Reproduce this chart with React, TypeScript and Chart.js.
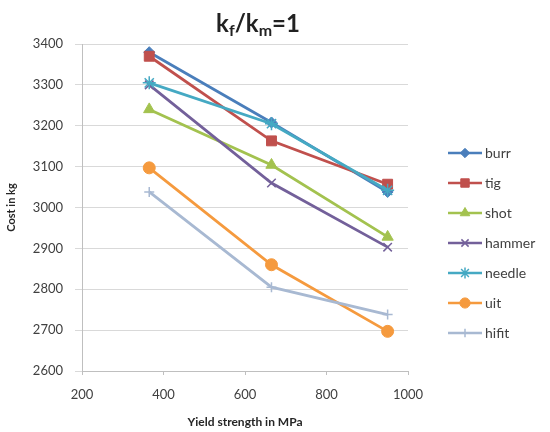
import React, { useEffect, useRef } from 'react';
import { Chart, registerables } from 'chart.js';
import { drawPoint } from 'chart.js/helpers';

Chart.register(...registerables);

const yieldStrength = [365, 665, 950];
const burr = [3380, 3208, 3038];
const tig = [3370, 3163, 3057];
const shot = [3240, 3104, 2928];
const hammer = [3300, 3060, 2903];
const needle = [3305, 3205, 3042];
const uit = [3097, 2860, 2697];
const hifit = [3038, 2805, 2738];

const seriesNames = ['burr', 'tig', 'shot', 'hammer', 'needle', 'uit', 'hifit'];
const seriesValues = [burr, tig, shot, hammer, needle, uit, hifit];
const seriesColors = ['#4A7EBB', '#C0504D', '#A3C24F', '#73609A', '#45A9C3', '#F59A3E', '#A8B9D2'];
const seriesMarkers = ['rectRot', 'rect', 'triangle', 'crossRot', 'star', 'circle', 'cross'];
const seriesRadius = [5.5, 7, 6.5, 6, 6.5, 6, 5];

const xMin = 200;
const xMax = 1000;
const xStep = 200;
const yMin = 2600;
const yMax = 3400;
const yStep = 100;

const FONT = 'Lato, "Open Sans", sans-serif';

const titlePlugin = {
  id: 'subscriptTitle',
  afterDraw(chart: any) {
    const ctx = chart.ctx as CanvasRenderingContext2D;
    const parts = [
      { t: 'k', sub: false },
      { t: 'f', sub: true },
      { t: '/k', sub: false },
      { t: 'm', sub: true },
      { t: '=1', sub: false },
    ];
    const big = `bold 24px ${FONT}`;
    const small = `bold 16px ${FONT}`;
    ctx.save();
    let total = 0;
    const widths = parts.map((p) => {
      ctx.font = p.sub ? small : big;
      const w = ctx.measureText(p.t).width;
      total += w;
      return w;
    });
    const cx = (chart.chartArea.left + chart.chartArea.right) / 2 + 13;
    let x = cx - total / 2;
    const baseline = chart.chartArea.top - 12;
    ctx.fillStyle = '#222222';
    ctx.textBaseline = 'alphabetic';
    ctx.textAlign = 'left';
    parts.forEach((p, i) => {
      ctx.font = p.sub ? small : big;
      ctx.fillText(p.t, x, p.sub ? baseline + 4 : baseline);
      x += widths[i];
    });
    ctx.restore();
  },
};

const legendPlugin = {
  id: 'lineLegend',
  afterDraw(chart: any) {
    const ctx = chart.ctx as CanvasRenderingContext2D;
    const area = chart.chartArea;
    const x0 = area.right + 40;
    const y0 = area.top + 109;
    const gap = 30;
    ctx.save();
    chart.data.datasets.forEach((ds: any, i: number) => {
      const y = y0 + i * gap;
      ctx.strokeStyle = ds.borderColor;
      ctx.fillStyle = ds.borderColor;
      ctx.lineWidth = 2.5;
      ctx.beginPath();
      ctx.moveTo(x0, y);
      ctx.lineTo(x0 + 34, y);
      ctx.stroke();
      ctx.lineWidth = ds.pointBorderWidth;
      drawPoint(
        ctx,
        { pointStyle: ds.pointStyle, radius: ds.pointRadius * 0.85, rotation: 0, borderWidth: ds.pointBorderWidth },
        x0 + 17,
        y
      );
      ctx.fillStyle = '#404040';
      ctx.font = `14px ${FONT}`;
      ctx.textBaseline = 'middle';
      ctx.textAlign = 'left';
      ctx.fillText(ds.label, x0 + 37, y);
    });
    ctx.restore();
  },
};

export default function App() {
  const canvasRef = useRef<HTMLCanvasElement | null>(null);

  useEffect(() => {
    document.body.style.margin = '0';
    Chart.defaults.font.family = FONT;
    const datasets = seriesNames.map((name, i) => ({
      label: name,
      data: yieldStrength.map((x, j) => ({ x, y: seriesValues[i][j] })),
      borderColor: seriesColors[i],
      backgroundColor: seriesColors[i],
      pointBackgroundColor: seriesColors[i],
      pointBorderColor: seriesColors[i],
      pointStyle: seriesMarkers[i],
      pointRadius: seriesRadius[i],
      pointBorderWidth: seriesMarkers[i] === 'crossRot' || seriesMarkers[i] === 'cross' || seriesMarkers[i] === 'star' ? 1.5 : 1,
      borderWidth: 2.8,
      tension: 0,
      order: seriesNames.length - i,
    }));

    const chart = new Chart(canvasRef.current as HTMLCanvasElement, {
      type: 'line',
      data: { datasets },
      options: {
        animation: false,
        responsive: false,
        layout: { padding: { left: 0, right: 142, top: 44, bottom: 0 } },
        plugins: {
          legend: { display: false },
          title: { display: false },
          tooltip: { enabled: false },
        },
        scales: {
          x: {
            type: 'linear',
            min: xMin,
            max: xMax,
            ticks: {
              stepSize: xStep,
              color: '#404040',
              font: { size: 13 },
              padding: 12,
              format: { useGrouping: false },
            },
            grid: { drawOnChartArea: false, drawTicks: true, tickLength: 4, color: '#BFBFBF' },
            border: { color: '#BFBFBF' },
            title: {
              display: true,
              text: 'Yield strength in MPa',
              color: '#262626',
              font: { size: 12, weight: 'bold' },
              padding: { top: 0, bottom: 3 },
            },
            afterFit(scale: any) {
              scale.height = 61;
            },
          },
          y: {
            min: yMin,
            max: yMax,
            ticks: {
              stepSize: yStep,
              color: '#404040',
              font: { size: 13 },
              padding: 12,
              format: { useGrouping: false },
            },
            grid: { color: '#D9D9D9', tickLength: 7 },
            border: { color: '#BFBFBF' },
            title: {
              display: true,
              text: 'Cost in kg',
              color: '#262626',
              font: { size: 11, weight: 'bold' },
              padding: { top: 5, bottom: 0 },
            },
            afterFit(scale: any) {
              scale.width = 82;
            },
          },
        },
      },
      plugins: [titlePlugin, legendPlugin],
    } as any);
    return () => chart.destroy();
  }, []);

  return (
    <div style={{ width: 550, height: 432 }}>
      <canvas ref={canvasRef} width={550} height={432} style={{ width: 550, height: 432, display: 'block' }} />
    </div>
  );
}
